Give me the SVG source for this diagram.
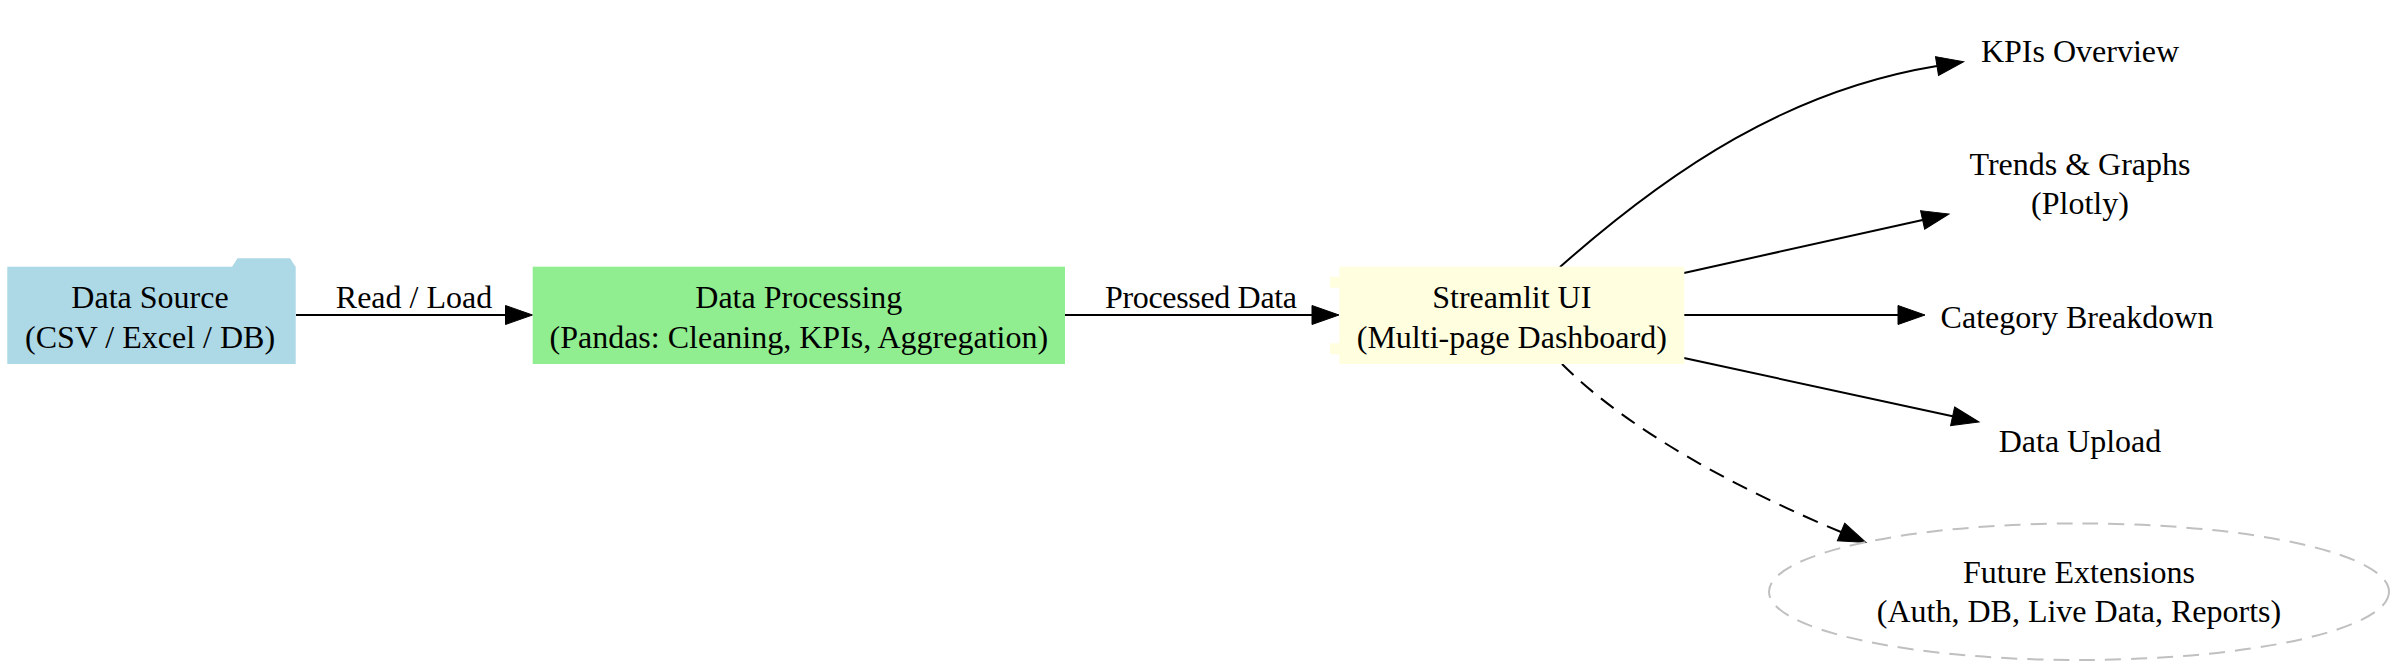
<svg xmlns="http://www.w3.org/2000/svg" width="2400" height="668" viewBox="0 0 2400 668">
<style>
.t{font-family:"Liberation Serif","Times New Roman",serif;font-size:32px;text-anchor:middle;fill:#000}
.e{fill:none;stroke:#000;stroke-width:2}
.d{stroke-dasharray:16,10}
</style>
<defs>
<marker id="ah" markerUnits="userSpaceOnUse" markerWidth="30" markerHeight="22" viewBox="0 -11 30 22" refX="0" refY="0" orient="auto" overflow="visible">
<path d="M0,-9.5 L27,0 L0,9.5 z" fill="#000" stroke="#000" stroke-width="1"/>
</marker>
</defs>
<rect width="2400" height="668" fill="#fff"/>
<g id="connectors">
<path class="e" d="M296,315 L505.5,315" marker-end="url(#ah)"/>
<text class="t" x="414" y="307.7">Read / Load</text>
<path class="e" d="M1065,315 L1312,315" marker-end="url(#ah)"/>
<text class="t" x="1201" y="307.7" textLength="192" lengthAdjust="spacing">Processed Data</text>
<path class="e" d="M1560,267 C1672,168 1790,90 1937,66" marker-end="url(#ah)"/>
<path class="e" d="M1684,273 L1922.6,219.9" marker-end="url(#ah)"/>
<path class="e" d="M1684,315 L1898,315" marker-end="url(#ah)"/>
<path class="e" d="M1684,358 L1952.6,416.3" marker-end="url(#ah)"/>
<path class="e d" d="M1562,364 C1632.7,434.7 1748.7,493.5 1841,532" marker-end="url(#ah)"/>
</g>
<g id="data_source">
<rect x="7.3" y="266.7" width="288.4" height="97.3" fill="#ADD8E6"/>
<polygon points="232,267 237.5,258.3 290,258.3 295.7,267" fill="#ADD8E6"/>
<text class="t" x="150" y="308.3">Data Source</text>
<text class="t" x="150" y="348.3">(CSV / Excel / DB)</text>
</g>
<g id="data_processing">
<rect x="532.7" y="266.7" width="532.3" height="97.3" fill="#90EE90"/>
<text class="t" x="798.8" y="308.3">Data Processing</text>
<text class="t" x="798.8" y="348.3">(Pandas: Cleaning, KPIs, Aggregation)</text>
</g>
<g id="streamlit_ui">
<rect x="1339.3" y="266.7" width="345" height="97.3" fill="#FFFFE0"/>
<rect x="1330" y="276.7" width="18" height="11" fill="#FFFFE0"/>
<rect x="1330" y="343.3" width="18" height="11" fill="#FFFFE0"/>
<text class="t" x="1511.8" y="308.3">Streamlit UI</text>
<text class="t" x="1511.8" y="348.3">(Multi-page Dashboard)</text>
</g>
<g id="kpis_overview">
<text class="t" x="2080" y="61.7">KPIs Overview</text>
</g>
<g id="trends_graphs">
<text class="t" x="2080" y="175">Trends &amp; Graphs</text>
<text class="t" x="2080" y="214">(Plotly)</text>
</g>
<g id="category_breakdown">
<text class="t" x="2077" y="327.5">Category Breakdown</text>
</g>
<g id="data_upload">
<text class="t" x="2080" y="451.7">Data Upload</text>
</g>
<g id="future_extensions">
<ellipse cx="2079" cy="591.7" rx="310" ry="68.3" fill="none" stroke="#C0C0C0" stroke-width="2" stroke-dasharray="16,10"/>
<text class="t" x="2079" y="582.5">Future Extensions</text>
<text class="t" x="2079" y="621.5">(Auth, DB, Live Data, Reports)</text>
</g>
</svg>
